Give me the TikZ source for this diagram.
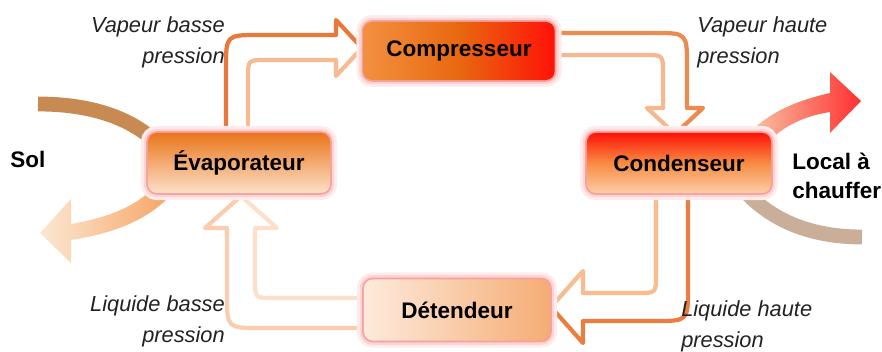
\documentclass[tikz,border=0pt]{standalone}
\usepackage{fontspec}
\setmainfont{Liberation Sans}

\definecolor{CompA}{HTML}{F29040}
\definecolor{CompB}{HTML}{E8680F}
\definecolor{CompC}{HTML}{FF1208}
\definecolor{EvapA}{HTML}{E9761C}
\definecolor{EvapB}{HTML}{FDE0C8}
\definecolor{CondA}{HTML}{FF1408}
\definecolor{CondB}{HTML}{F78C42}
\definecolor{CondC}{HTML}{FBCDA6}
\definecolor{DetA}{HTML}{FDEADC}
\definecolor{DetB}{HTML}{F5AC74}
\definecolor{GlowPink}{HTML}{F7A0A0}
\definecolor{NoteGray}{HTML}{222222}
\definecolor{SolBrown}{HTML}{C78A52}
\definecolor{SolLight}{HTML}{FCE7D3}
\definecolor{SolOrange}{HTML}{F6A565}
\definecolor{HeatLight}{HTML}{F8CBAA}
\definecolor{HeatRed}{HTML}{FF3030}
\definecolor{HeatTan}{HTML}{C9AF99}
\definecolor{PipeOneOut}{HTML}{E9783C}
\definecolor{PipeOneIn}{HTML}{F8BA90}
\definecolor{PipeTwoOut}{HTML}{EC8A50}
\definecolor{PipeTwoIn}{HTML}{F6B88E}
\definecolor{PipeThreeOut}{HTML}{EA7E40}
\definecolor{PipeThreeIn}{HTML}{F8BC90}
\definecolor{PipeFourOut}{HTML}{FBCDB0}
\definecolor{PipeFourIn}{HTML}{FCE0CC}

\begin{document}
\begin{tikzpicture}[x=0.025cm, y=-0.025cm,
        box/.style={rounded corners=0.22cm, minimum height=1.5cm,
            font=\fontsize{16}{19}\selectfont\bfseries,
            preaction={draw=GlowPink!20, line width=10pt},
            preaction={draw=GlowPink!45, line width=6pt},
            preaction={draw=GlowPink, line width=2.5pt}},
        pipe/.style={line width=3pt, line join=round, line cap=round},
        note/.style={font=\fontsize{15.5}{22}\selectfont\itshape, text=NoteGray, inner sep=0pt},
        side/.style={font=\fontsize{16}{21}\selectfont\bfseries, inner sep=0pt, align=left}]
    \useasboundingbox (0,0) rectangle (882,352);

    % heat exchange with the ground and the room
    \draw[line width=0.37cm, SolBrown] (38,104) .. controls (95,104) and (135,120) .. (160,146);
    \shade[left color=SolLight, right color=SolOrange]
        (155,186) .. controls (135,208) and (105,218) .. (71,224) -- (71,199) -- (40,233)
        -- (71,263) -- (71,240) .. controls (110,234) and (145,222) .. (170,196) -- cycle;
    \shade[left color=HeatLight, right color=HeatRed]
        (744,138) .. controls (770,110) and (800,100) .. (830,93) -- (830,72) -- (861,101)
        -- (830,133) -- (830,112) .. controls (805,116) and (785,125) .. (768,142) -- cycle;
    \draw[line width=0.37cm, HeatTan] (742,188) .. controls (775,226) and (820,237) .. (862,237);

    % refrigerant circuit: white body, outer and inner edge
    \coordinate (TipOne) at (362,48);
    \coordinate (TipTwo) at (675,134);
    \coordinate (TipThree) at (551,307);
    \coordinate (TipFour) at (241,196);

    \fill[white] (226,133) -- (226,68) .. controls (226,35) .. (259,35) -- (336,35) -- (336,20) -- (TipOne)
        -- (336,76) -- (336,60) -- (266,60) .. controls (248,60) .. (248,78) -- (248,133) -- cycle;
    \draw[pipe, PipeOneOut] (226,133) -- (226,68) .. controls (226,35) .. (259,35) -- (336,35)
        -- (336,20) -- (TipOne);
    \draw[pipe, PipeOneIn] (TipOne) -- (336,76) -- (336,60) -- (266,60) .. controls (248,60) .. (248,78)
        -- (248,133);

    \fill[white] (555,33) -- (654,33) .. controls (687,33) .. (687,66) -- (687,108) -- (703,108) -- (TipTwo)
        -- (647,108) -- (663,108) -- (663,73) .. controls (663,55) .. (645,55) -- (555,55) -- cycle;
    \draw[pipe, PipeTwoOut] (555,33) -- (654,33) .. controls (687,33) .. (687,66) -- (687,108)
        -- (703,108) -- (TipTwo);
    \draw[pipe, PipeTwoIn] (TipTwo) -- (647,108) -- (663,108) -- (663,73) .. controls (663,55) .. (645,55)
        -- (555,55);

    \fill[white] (656,195) -- (656,275) .. controls (656,293) .. (638,293) -- (583,293) -- (583,271) -- (TipThree)
        -- (583,343) -- (583,321) -- (655,321) .. controls (688,321) .. (688,288) -- (688,195) -- cycle;
    \draw[pipe, PipeThreeIn] (656,195) -- (656,275) .. controls (656,293) .. (638,293) -- (583,293)
        -- (583,271) -- (TipThree);
    \draw[pipe, PipeThreeOut] (TipThree) -- (583,343) -- (583,321) -- (655,321) .. controls (688,321) .. (688,288)
        -- (688,195);

    \fill[white] (362,298) -- (273,298) .. controls (255,298) .. (255,280) -- (255,228) -- (277,228) -- (TipFour)
        -- (205,228) -- (227,228) -- (227,295) .. controls (227,328) .. (260,328) -- (362,328) -- cycle;
    \draw[pipe, PipeFourIn] (362,298) -- (273,298) .. controls (255,298) .. (255,280) -- (255,228)
        -- (277,228) -- (TipFour);
    \draw[pipe, PipeFourOut] (TipFour) -- (205,228) -- (227,228) -- (227,295) .. controls (227,328) .. (260,328)
        -- (362,328);

    % components
    \node[box, minimum width=4.78cm, minimum height=1.45cm,
        left color=CompA, right color=CompC, middle color=CompB] (Comp) at (459,51) {Compresseur};
    \node[box, minimum width=4.55cm, top color=EvapA, bottom color=EvapB] (Evap) at (239,163) {Évaporateur};
    \node[box, minimum width=4.6cm,
        top color=CondA, bottom color=CondC, middle color=CondB] (Cond) at (679,163) {Condenseur};
    \node[box, minimum width=4.65cm, minimum height=1.53cm,
        left color=DetA, right color=DetB] (Det) at (457,310) {Détendeur};

    % labels
    \node[note, anchor=east, align=right] (VapBasse) at (225,42) {Vapeur basse\\pression};
    \node[note, anchor=west, align=left] (VapHaute) at (697,42) {Vapeur haute\\pression};
    \node[note, anchor=east, align=right] (LiqBasse) at (225,321) {Liquide basse\\pression};
    \node[note, anchor=west, align=left] (LiqHaute) at (681,326) {Liquide haute\\pression};
    \node[side, anchor=west] (Sol) at (10,159) {Sol};
    \node[side, anchor=west] (Local) at (792,176) {Local à\\chauffer};
\end{tikzpicture}
\end{document}
